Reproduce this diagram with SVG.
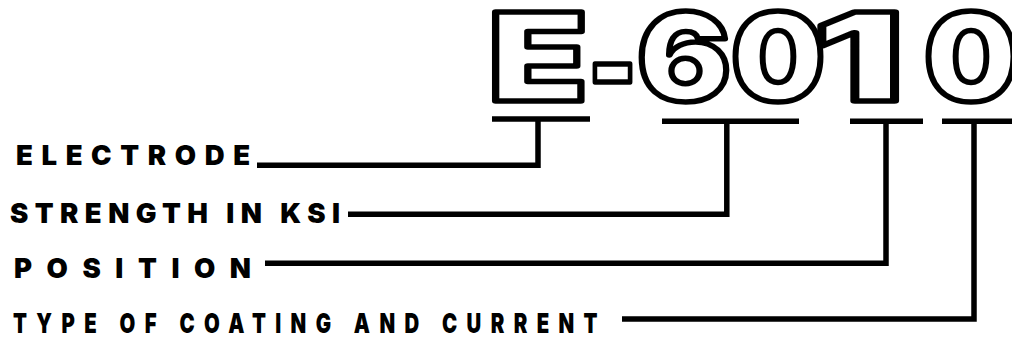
<svg xmlns="http://www.w3.org/2000/svg" width="1012" height="338" viewBox="0 0 1012 338">
<style>
.big{font-family:Inter,"Liberation Sans",sans-serif;font-weight:900;font-size:122px;fill:#fff;stroke:#000;stroke-width:5.5px;stroke-linejoin:round}
.lbl{font-family:Inter,"Liberation Sans",sans-serif;font-weight:900;font-size:27.5px;fill:#000}
.conn{fill:none;stroke:#000;stroke-width:5.5;stroke-linejoin:miter;stroke-linecap:butt}
</style>
<rect width="1012" height="338" fill="#fff"/>
<g id="code">
<text class="big" x="488" y="100.5" textLength="100" lengthAdjust="spacingAndGlyphs">E</text>
<text class="big" x="588" y="108" textLength="49" lengthAdjust="spacingAndGlyphs">-</text>
<text class="big" x="637" y="100.5" textLength="94" lengthAdjust="spacingAndGlyphs">6</text>
<text class="big" x="731" y="100.5" textLength="94" lengthAdjust="spacingAndGlyphs">0</text>
<text class="big" x="813" y="100.5" textLength="91" lengthAdjust="spacingAndGlyphs">1</text>
<text class="big" x="924" y="100.5" textLength="94" lengthAdjust="spacingAndGlyphs">0</text>
</g>
<g id="label-electrode"><text class="lbl" x="16" y="165" textLength="234" lengthAdjust="spacing">ELECTRODE</text></g>
<g id="label-strength"><text class="lbl" x="10" y="223" textLength="330" lengthAdjust="spacing">STRENGTH IN KSI</text></g>
<g id="label-position"><text class="lbl" x="14" y="278" font-size="29" textLength="237" lengthAdjust="spacing">POSITION</text></g>
<g id="label-type"><text class="lbl" transform="scale(0.74,1)" x="17.5" y="333" font-size="32.5" textLength="790" lengthAdjust="spacing">TYPE OF COATING AND CURRENT</text></g>
<g id="connectors">
<path class="conn" d="M492,119H590"/>
<path class="conn" d="M257,165.3H538V119"/>
<path class="conn" d="M662,121.2H799"/>
<path class="conn" d="M348,214.2H726.8V121"/>
<path class="conn" d="M850,121.2H923"/>
<path class="conn" d="M265,263.2H886V121"/>
<path class="conn" d="M942,121.2H1012"/>
<path class="conn" d="M622,318.9H974V121"/>
</g>
</svg>
